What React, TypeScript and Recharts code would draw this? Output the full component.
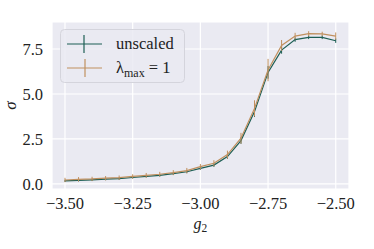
import {
  ComposedChart,
  Line,
  XAxis,
  YAxis,
  CartesianGrid,
  ErrorBar,
  Label,
} from 'recharts';

// coupling values on the x axis
const G2 = [
  -3.5, -3.45, -3.4, -3.35, -3.3, -3.25, -3.2, -3.15, -3.1, -3.05, -3.0,
  -2.95, -2.9, -2.85, -2.8, -2.75, -2.7, -2.65, -2.6, -2.55, -2.5,
];

const UNSCALED = [
  0.17, 0.2, 0.23, 0.27, 0.3, 0.36, 0.42, 0.48, 0.57, 0.68, 0.87,
  1.05, 1.52, 2.41, 4.02, 6.2, 7.44, 8.02, 8.15, 8.15, 7.96,
];
const UNSCALED_ERR = [
  0.06, 0.06, 0.06, 0.06, 0.06, 0.06, 0.06, 0.07, 0.07, 0.08, 0.08,
  0.1, 0.12, 0.18, 0.3, 0.35, 0.2, 0.12, 0.1, 0.1, 0.12,
];

const LAMBDA_ONE = [
  0.22, 0.26, 0.28, 0.32, 0.35, 0.42, 0.48, 0.54, 0.63, 0.74, 0.96,
  1.15, 1.63, 2.54, 4.2, 6.33, 7.7, 8.22, 8.35, 8.34, 8.22,
];
const LAMBDA_ONE_ERR = [
  0.12, 0.12, 0.12, 0.12, 0.12, 0.12, 0.13, 0.13, 0.14, 0.15, 0.15,
  0.17, 0.22, 0.3, 0.45, 0.62, 0.3, 0.18, 0.14, 0.12, 0.2,
];

const X_TICKS = [-3.5, -3.25, -3.0, -2.75, -2.5];
const Y_TICKS = [0, 2.5, 5, 7.5];

const GREEN = '#1d5e54';
const ORANGE = '#c0905f';
const FONT = '"Liberation Serif", "DejaVu Serif", serif';

const data = G2.map((g, i) => ({
  g,
  unscaled: UNSCALED[i],
  unscaledErr: UNSCALED_ERR[i],
  lam: LAMBDA_ONE[i],
  lamErr: LAMBDA_ONE_ERR[i],
}));

const fmt = (v: number, d: number) => (v < 0 ? '\u2212' : '') + Math.abs(v).toFixed(d);

// legend drawn on top of the plot, like matplotlib's "best" location
function LegendBox() {
  return (
    <svg
      width={126}
      height={56}
      style={{ position: 'absolute', left: 60, top: 29, display: 'block', fontFamily: FONT }}
    >
      <rect x={0.5} y={0.5} width={124} height={53} rx={4} fill="rgba(234,234,242,0.85)" stroke="#d4d4dc" />
      <line x1={7} x2={42} y1={15} y2={15} stroke={GREEN} strokeWidth={1.2} />
      <line x1={24} x2={24} y1={6} y2={24} stroke={GREEN} strokeWidth={1.2} />
      <text x={56} y={20} fontSize={16.5} fill="#222">unscaled</text>
      <line x1={7} x2={42} y1={39} y2={39} stroke={ORANGE} strokeWidth={1.2} />
      <line x1={25} x2={25} y1={30} y2={48} stroke={ORANGE} strokeWidth={1.2} />
      <text x={56} y={44} fontSize={16.5} fill="#222">
        λ<tspan fontSize={12} dy={4}>max</tspan>
        <tspan dy={-4}> = 1</tspan>
      </text>
    </svg>
  );
}

export default function App() {
  return (
    <div style={{ position: 'absolute', left: 0, top: 0, width: 374, height: 249, background: '#fff' }}>
      <ComposedChart
        width={374}
        height={249}
        data={data}
        margin={{ top: 22, right: 25, bottom: 0, left: 0 }}
        style={{ fontFamily: FONT }}
      >
        <CartesianGrid fill="#eaeaf2" stroke="#ffffff" strokeWidth={1.2} />
        <XAxis
          dataKey="g"
          type="number"
          domain={[-3.548, -2.451]}
          ticks={X_TICKS}
          tickFormatter={(v: number) => fmt(v, 2)}
          axisLine={false}
          tickLine={false}
          tickSize={0}
          tickMargin={8}
          height={60}
          tick={{ fontSize: 16.5, fill: '#222', fontFamily: FONT }}
        >
          <Label
            content={({ viewBox }: any) => (
              <text
                x={viewBox.x + viewBox.width / 2 - 7}
                y={229}
                fontSize={16}
                fill="#222"
                fontFamily={FONT}
                fontStyle="italic"
              >
                g<tspan fontSize={11.5} dy={3} fontStyle="normal">2</tspan>
              </text>
            )}
          />
        </XAxis>
        <YAxis
          type="number"
          domain={[-0.28, 9.0]}
          ticks={Y_TICKS}
          tickFormatter={(v: number) => fmt(v, 1)}
          axisLine={false}
          tickLine={false}
          tickSize={0}
          tickMargin={9}
          width={52}
          tick={{ fontSize: 16.5, fill: '#222', fontFamily: FONT }}
        >
          <Label
            content={({ viewBox }: any) => (
              <text
                x={16}
                y={viewBox.y + viewBox.height / 2}
                fontSize={17}
                fill="#222"
                fontFamily={FONT}
                fontStyle="italic"
                textAnchor="middle"
                transform={`rotate(-90 16 ${viewBox.y + viewBox.height / 2})`}
              >
                σ
              </text>
            )}
          />
        </YAxis>
        <Line
          dataKey="unscaled"
          type="linear"
          stroke={GREEN}
          strokeWidth={1.2}
          dot={false}
          isAnimationActive={false}
        >
          <ErrorBar dataKey="unscaledErr" width={0} stroke={GREEN} strokeWidth={1} direction="y" />
        </Line>
        <Line
          dataKey="lam"
          type="linear"
          stroke={ORANGE}
          strokeWidth={1.2}
          dot={false}
          isAnimationActive={false}
        >
          <ErrorBar dataKey="lamErr" width={0} stroke={ORANGE} strokeWidth={1} direction="y" />
        </Line>
      </ComposedChart>
      <LegendBox />
    </div>
  );
}
